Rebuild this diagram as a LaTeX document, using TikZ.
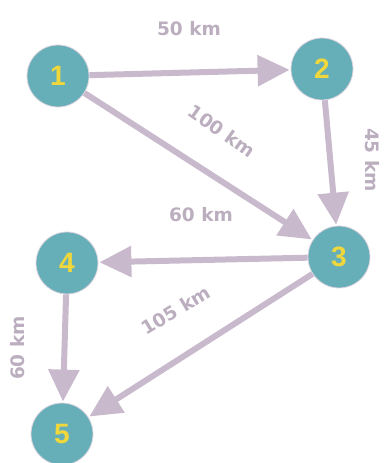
\documentclass[tikz,border=0pt]{standalone}
\usepackage{fontspec}
\setmainfont{Liberation Sans}
\newfontfamily\labelfont{DejaVu Sans}
\usetikzlibrary{arrows.meta}
\definecolor{nodeteal}{HTML}{67AFB8}
\definecolor{numyellow}{HTML}{F0D83C}
\definecolor{edgelilac}{HTML}{C9B9CD}
\definecolor{labelgray}{HTML}{BBAEBF}
\tikzset{
  city/.style={circle, fill=nodeteal, draw=edgelilac!60, line width=0.8pt,
    minimum size=62pt, inner sep=0pt,
    font=\fontsize{28}{28}\selectfont\bfseries, text=numyellow},
  road/.style={draw=edgelilac, line width=6pt,
    -{Triangle[length=32pt,width=30pt]}, shorten >=1pt, shorten <=0pt},
  dist/.style={font=\labelfont\fontsize{18.5}{18.5}\selectfont\bfseries, text=labelgray, inner sep=0pt}
}
\begin{document}
\begin{tikzpicture}[x=1pt,y=1pt]
  \useasboundingbox (0,0) rectangle (386,463);
  % cities
  \node[city] (n1) at (58,387) {1};
  \node[city] (n2) at (322,394) {2};
  \node[city] (n3) at (339,206) {3};
  \node[city] (n4) at (67,200) {4};
  \node[city] (n5) at (62,29) {5};
  % roads
  \draw[road] (n1) -- (n2);
  \draw[road] (n1) -- (n3);
  \draw[road] (n2) -- (n3);
  \draw[road] (n3) -- (n4);
  \draw[road] (n3) -- (n5);
  \draw[road] (n4) -- (n5);
  % distances
  \node[dist] (d12) at (189,434) {50 km};
  \node[dist, rotate=-35] (d13) at (222,332) {100 km};
  \node[dist, rotate=-90] (d23) at (372,303) {45 km};
  \node[dist] (d34) at (201,248) {60 km};
  \node[dist, rotate=31] (d35) at (176,153) {105 km};
  \node[dist, rotate=90] (d45) at (18,115) {60 km};
\end{tikzpicture}
\end{document}
